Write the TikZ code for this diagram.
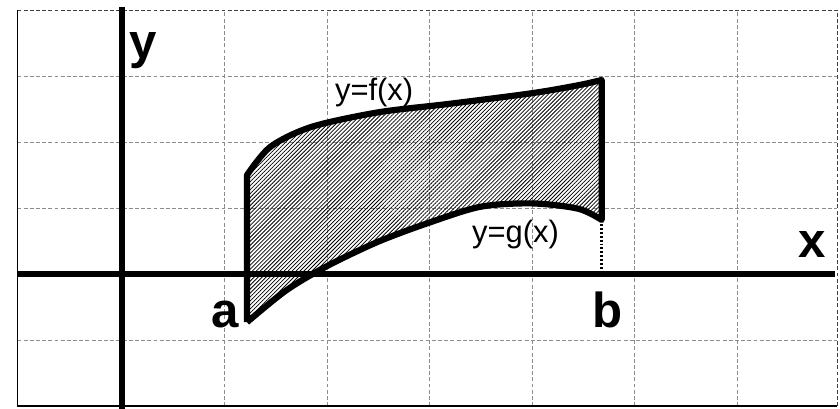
\documentclass[tikz,border=0pt]{standalone}
\usepackage{fontspec}
\setmainfont{Liberation Sans}
\usetikzlibrary{patterns.meta}

\tikzset{
  gridline/.style={black!45, line width=0.6pt, dash pattern=on 2.8pt off 1.6pt},
  axisline/.style={line width=3.8pt},
  bound/.style={line width=4.4pt, line join=round},
  hatch/.style={pattern={Lines[angle=45,distance=2pt,line width=0.55pt]}},
  biglabel/.style={font=\fontsize{35}{40}\selectfont\bfseries, inner sep=0pt},
  fnlabel/.style={font=\fontsize{22}{26}\selectfont, inner sep=0pt}
}

\begin{document}
\begin{tikzpicture}[x=2.5625cm, y=1.65cm]
  \useasboundingbox (-1.19,-2.03) rectangle (7.005,4.152);
  % Grid
  \foreach \gx in {1,...,6}
    \draw[gridline] (\gx,-2) -- (\gx,4);
  \foreach \gy in {-1,1,2,3}
    \draw[gridline] (-1.02,\gy) -- (6.98,\gy);
  \draw[gridline, black!75] (-1.02,4) -- (6.98,4) -- (6.98,-2);
  \draw[line width=0.8pt] (-1.02,4) -- (-1.02,-2) -- (6.98,-2);

  % Region ends
  \coordinate (aTop) at (1.22,1.5);
  \coordinate (aBot) at (1.22,-0.73);
  \coordinate (bTop) at (4.68,2.94);
  \coordinate (bBot) at (4.68,0.82);
  \coordinate (bAxis) at (4.68,0);

  \fill[hatch] (aBot) -- (aTop)
    -- plot[smooth] coordinates {(1.22,1.5) (1.45,1.93) (1.85,2.23) (2.5,2.45)
       (3.2,2.58) (4.0,2.74) (4.45,2.86) (4.68,2.94)}
    -- (bBot)
    -- plot[smooth] coordinates {(4.68,0.82) (4.45,0.99) (4.0,1.07) (3.5,1.02)
       (3.0,0.78) (2.5,0.49) (2.0,0.12) (1.6,-0.25) (1.22,-0.73)}
    -- cycle;

  % Axes
  \draw[axisline] (-1.02,0) -- (6.96,0);
  \draw[axisline] (0,-2.05) -- (0,4.05);

  % f and g
  \draw[bound] (aBot) -- (aTop)
    -- plot[smooth] coordinates {(1.22,1.5) (1.45,1.93) (1.85,2.23) (2.5,2.45)
       (3.2,2.58) (4.0,2.74) (4.45,2.86) (4.68,2.94)}
    -- (bBot)
    -- plot[smooth] coordinates {(4.68,0.82) (4.45,0.99) (4.0,1.07) (3.5,1.02)
       (3.0,0.78) (2.5,0.49) (2.0,0.12) (1.6,-0.25) (1.22,-0.73)};
  \draw[line width=2pt, dash pattern=on 1.4pt off 1.4pt] (bBot) -- (bAxis);

  % Labels
  \node[biglabel] (ylab) at (0.205,3.38) {y};
  \node[biglabel] (xlab) at (6.73,0.44) {x};
  \node[biglabel] (alab) at (1.005,-0.62) {a};
  \node[biglabel] (blab) at (4.74,-0.545) {b};
  \node[fnlabel] (flab) at (2.46,2.75) {y=f(x)};
  \node[fnlabel] (glab) at (3.84,0.606) {y=g(x)};
\end{tikzpicture}
\end{document}
